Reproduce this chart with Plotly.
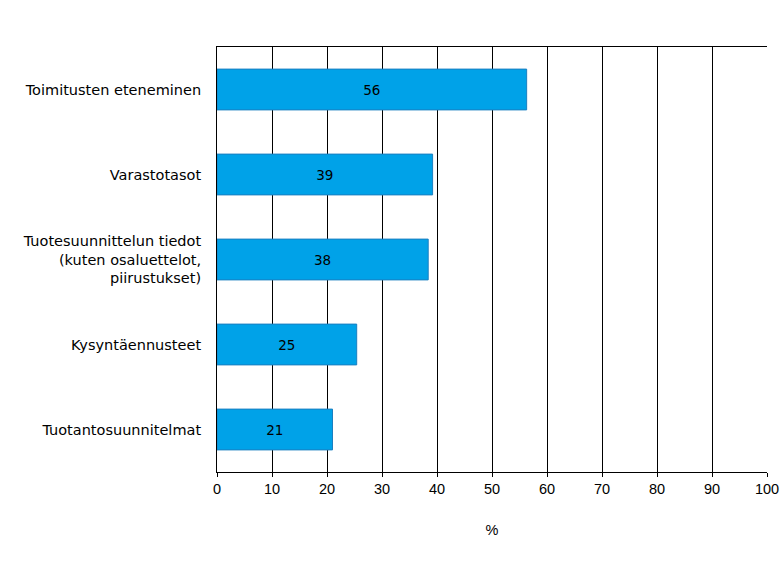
import plotly.graph_objects as go

categories = [
    "Toimitusten eteneminen",
    "Varastotasot",
    "Tuotesuunnittelun tiedot<br>(kuten osaluettelot,<br>piirustukset)",
    "Kysyntäennusteet",
    "Tuotantosuunnitelmat",
]
values = [56.3, 39.2, 38.4, 25.4, 21.0]
value_labels = ["56", "39", "38", "25", "21"]
x_ticks = [0, 10, 20, 30, 40, 50, 60, 70, 80, 90, 100]

FONT = "DejaVu Sans, Liberation Sans, Arial"
NUMFONT = "Liberation Sans, Arial"

fig = go.Figure(go.Bar(
    y=categories,
    x=values,
    orientation="h",
    text=value_labels,
    textposition="inside",
    insidetextanchor="middle",
    textfont=dict(family=FONT, size=13.5, color="black"),
    marker=dict(color="#00A2E8", line=dict(color="#1a7fc0", width=1)),
    width=0.48,
))

fig.update_layout(
    width=781, height=563,
    margin=dict(l=217, r=14, t=47, b=91, autoexpand=False),
    paper_bgcolor="white", plot_bgcolor="white",
    font=dict(family=FONT, size=14.5, color="black"),
    showlegend=False,
    xaxis=dict(
        range=[0, 100], tickvals=x_ticks, ticktext=[str(t) for t in x_ticks],
        tickfont=dict(family=NUMFONT, size=14.5),
        showgrid=True, gridcolor="black", gridwidth=1,
        showline=True, linecolor="black", linewidth=1, mirror=True,
        ticks="outside", ticklen=4, tickcolor="black",
        zeroline=False, fixedrange=True, automargin=False,
        title=dict(text="%", standoff=28, font=dict(family=NUMFONT, size=14.5)),
    ),
    yaxis=dict(
        autorange="reversed", showgrid=False, automargin=False,
        showline=True, linecolor="black", linewidth=1,
        ticks="", ticklabelstandoff=12, zeroline=False, fixedrange=True,
    ),
)

fig.write_html("out.html", config={"displayModeBar": False},
               post_script="document.body.style.margin='0';document.body.style.overflow='hidden';")
